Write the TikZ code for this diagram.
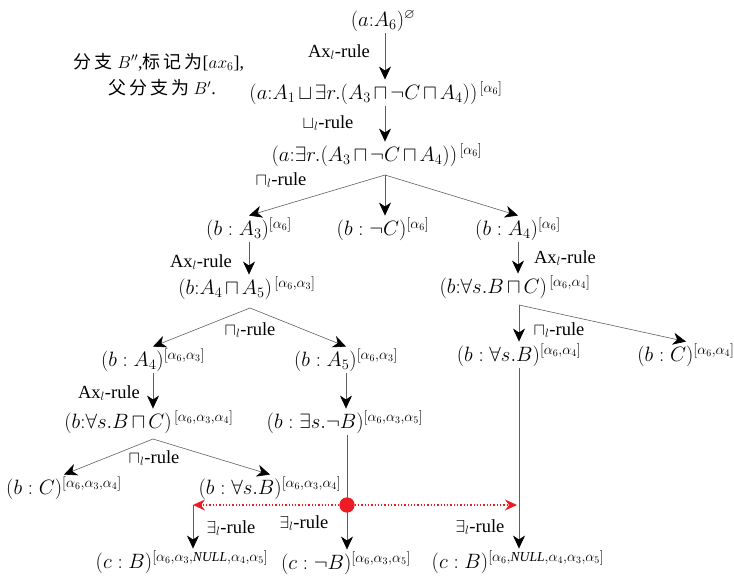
\documentclass[tikz,border=0pt]{standalone}
\usepackage{amsmath,amssymb}
\usepackage{fontspec}
\setmainfont{Liberation Serif}
\newfontfamily\cjk{Noto Sans CJK SC}
\usetikzlibrary{arrows.meta, calc}
\definecolor{edgegray}{RGB}{95,95,95}
\definecolor{linkred}{RGB}{237,28,36}
\tikzset{
  term/.style={inner sep=1.5pt, font=\fontsize{19.5}{22}\selectfont,
    execute at begin node={\medmuskip=2.5mu\relax}},
  rulelbl/.style={inner sep=0pt, font=\fontsize{18.5}{22}\selectfont},
  note/.style={inner sep=0pt, font=\fontsize{18}{21}\selectfont},
  edge/.style={draw=edgegray, line width=0.6pt,
    -{Stealth[length=13pt, width=12pt, inset=4pt, color=black]}},
  link/.style={draw=linkred, line width=1.3pt, dotted,
    -{Stealth[length=12pt, width=11pt, inset=4pt, color=linkred]}},
  hubdot/.style={circle, fill=linkred, inner sep=0pt, minimum size=15pt},
}

\begin{document}
\begin{tikzpicture}[x=1pt, y=-1pt]
  \useasboundingbox (0,0) rectangle (734,577);
  % note
  \node[note] (note1) at (159,62) {{\cjk 分\,支} $B''$,{\cjk 标\,记\,为}[$ax_6$],};
  \node[note] (note2) at (162,88) {{\cjk 父\,分\,支\,为} $B'$.};
  % top chain
  \coordinate (spine) at (385,0);
  \node[term] (n0) at (383,21) {$(a{:}A_6)^{\varnothing}$};
  \node[term] (n1) at (376,93) {$(a{:}A_1\sqcup\exists r.(A_3\sqcap\neg C\sqcap A_4))^{\,[\alpha_6]}$};
  \node[term] (n2) at (377,155) {$(a{:}\exists r.(A_3\sqcap\neg C\sqcap A_4))^{\,[\alpha_6]}$};
  \draw[edge] (n0.south -| spine) -- (n1.north -| spine);
  \node[rulelbl] at (339,52) {Ax$_l$-rule};
  \draw[edge] (n1.south -| spine) -- (n2.north -| spine);
  \node[rulelbl] at (328,123) {$\sqcup_l$-rule};
  % first split
  \coordinate (s2) at (385,175);
  \node[term] (n3) at (249,229) {$(b:A_3)^{[\alpha_6]}$};
  \node[term] (n4) at (383,229) {$(b:\neg C)^{[\alpha_6]}$};
  \node[term] (n5) at (518,229) {$(b:A_4)^{[\alpha_6]}$};
  \draw[edge] (s2) -- (n3.north);
  \draw[edge] (s2) -- (s2 |- n4.north);
  \draw[edge] (s2) -- (n5.north);
  \node[rulelbl] at (281,180) {$\sqcap_l$-rule};
  % left part
  \node[term] (n6) at (247,288) {$(b{:}A_4\sqcap A_5)^{\,[\alpha_6,\alpha_3]}$};
  \draw[edge] (n3.south) -- (n3.south |- n6.north);
  \node[rulelbl] at (201,262) {Ax$_l$-rule};
  \coordinate (s6) at (250,308);
  \node[term] (n7) at (153,360) {$(b:A_4)^{[\alpha_6,\alpha_3]}$};
  \node[term] (n8) at (346,360) {$(b:A_5)^{[\alpha_6,\alpha_3]}$};
  \draw[edge] (s6) -- (n7.north);
  \draw[edge] (s6) -- (n8.north);
  \node[rulelbl] at (250,330) {$\sqcap_l$-rule};
  \node[term] (n9) at (149,422) {$(b{:}\forall s.B\sqcap C)^{\,[\alpha_6,\alpha_3,\alpha_4]}$};
  \draw[edge] (n7.south) -- (n7.south |- n9.north);
  \node[rulelbl] at (109,393) {Ax$_l$-rule};
  \coordinate (s9) at (153,439);
  \node[term] (n10) at (64,488) {$(b:C)^{[\alpha_6,\alpha_3,\alpha_4]}$};
  \node[term] (n11) at (270,488) {$(b:\forall s.B)^{[\alpha_6,\alpha_3,\alpha_4]}$};
  \draw[edge] (s9) -- (n10.north);
  \draw[edge] (s9) -- (n11.north);
  \node[rulelbl] at (154,458) {$\sqcap_l$-rule};
  \node[term] (n13) at (345,422) {$(b:\exists s.\neg B)^{[\alpha_6,\alpha_3,\alpha_5]}$};
  \draw[edge] (n8.south) -- (n8.south |- n13.north);
  % right part
  \node[term] (n15) at (515,287) {$(b{:}\forall s.B\sqcap C)^{\,[\alpha_6,\alpha_4]}$};
  \draw[edge] (n5.south) -- (n5.south |- n15.north);
  \node[rulelbl] at (565,258) {Ax$_l$-rule};
  \coordinate (s15) at (519,305);
  \node[term] (n16) at (519,355) {$(b:\forall s.B)^{[\alpha_6,\alpha_4]}$};
  \node[term] (n17) at (686,355) {$(b:C)^{[\alpha_6,\alpha_4]}$};
  \draw[edge] (s15) -- (s15 |- n16.north);
  \draw[edge] (s15) -- (n17.north);
  \node[rulelbl] at (559,330) {$\sqcap_l$-rule};
  % bottom row
  \node[term] (n12) at (182,562) {$(c:B)^{[\alpha_6,\alpha_3,\mathit{NULL},\alpha_4,\alpha_5]}$};
  \node[term] (n14) at (346,563) {$(c:\neg B)^{[\alpha_6,\alpha_3,\alpha_5]}$};
  \node[term] (n18) at (518,562) {$(c:B)^{[\alpha_6,\mathit{NULL},\alpha_4,\alpha_3,\alpha_5]}$};
  \coordinate (tipL) at (193,505);
  \coordinate (tipR) at (517,505);
  \node[hubdot] (hub) at (347,505) {};
  \draw[edge] (n13.south -| hub) -- (hub |- n14.north);
  \draw[edge] (n16.south) -- (n16.south |- n18.north);
  \draw[edge] (tipL) -- (tipL |- n12.north);
  \node[rulelbl] at (231,528) {$\exists_l$-rule};
  \node[rulelbl] at (304,523) {$\exists_l$-rule};
  \node[rulelbl] at (480,527) {$\exists_l$-rule};
  % red link
  \node[hubdot] at (hub) {};
  \draw[link] (hub) -- (tipL);
  \draw[link] (hub) -- (tipR);
\end{tikzpicture}
\end{document}
